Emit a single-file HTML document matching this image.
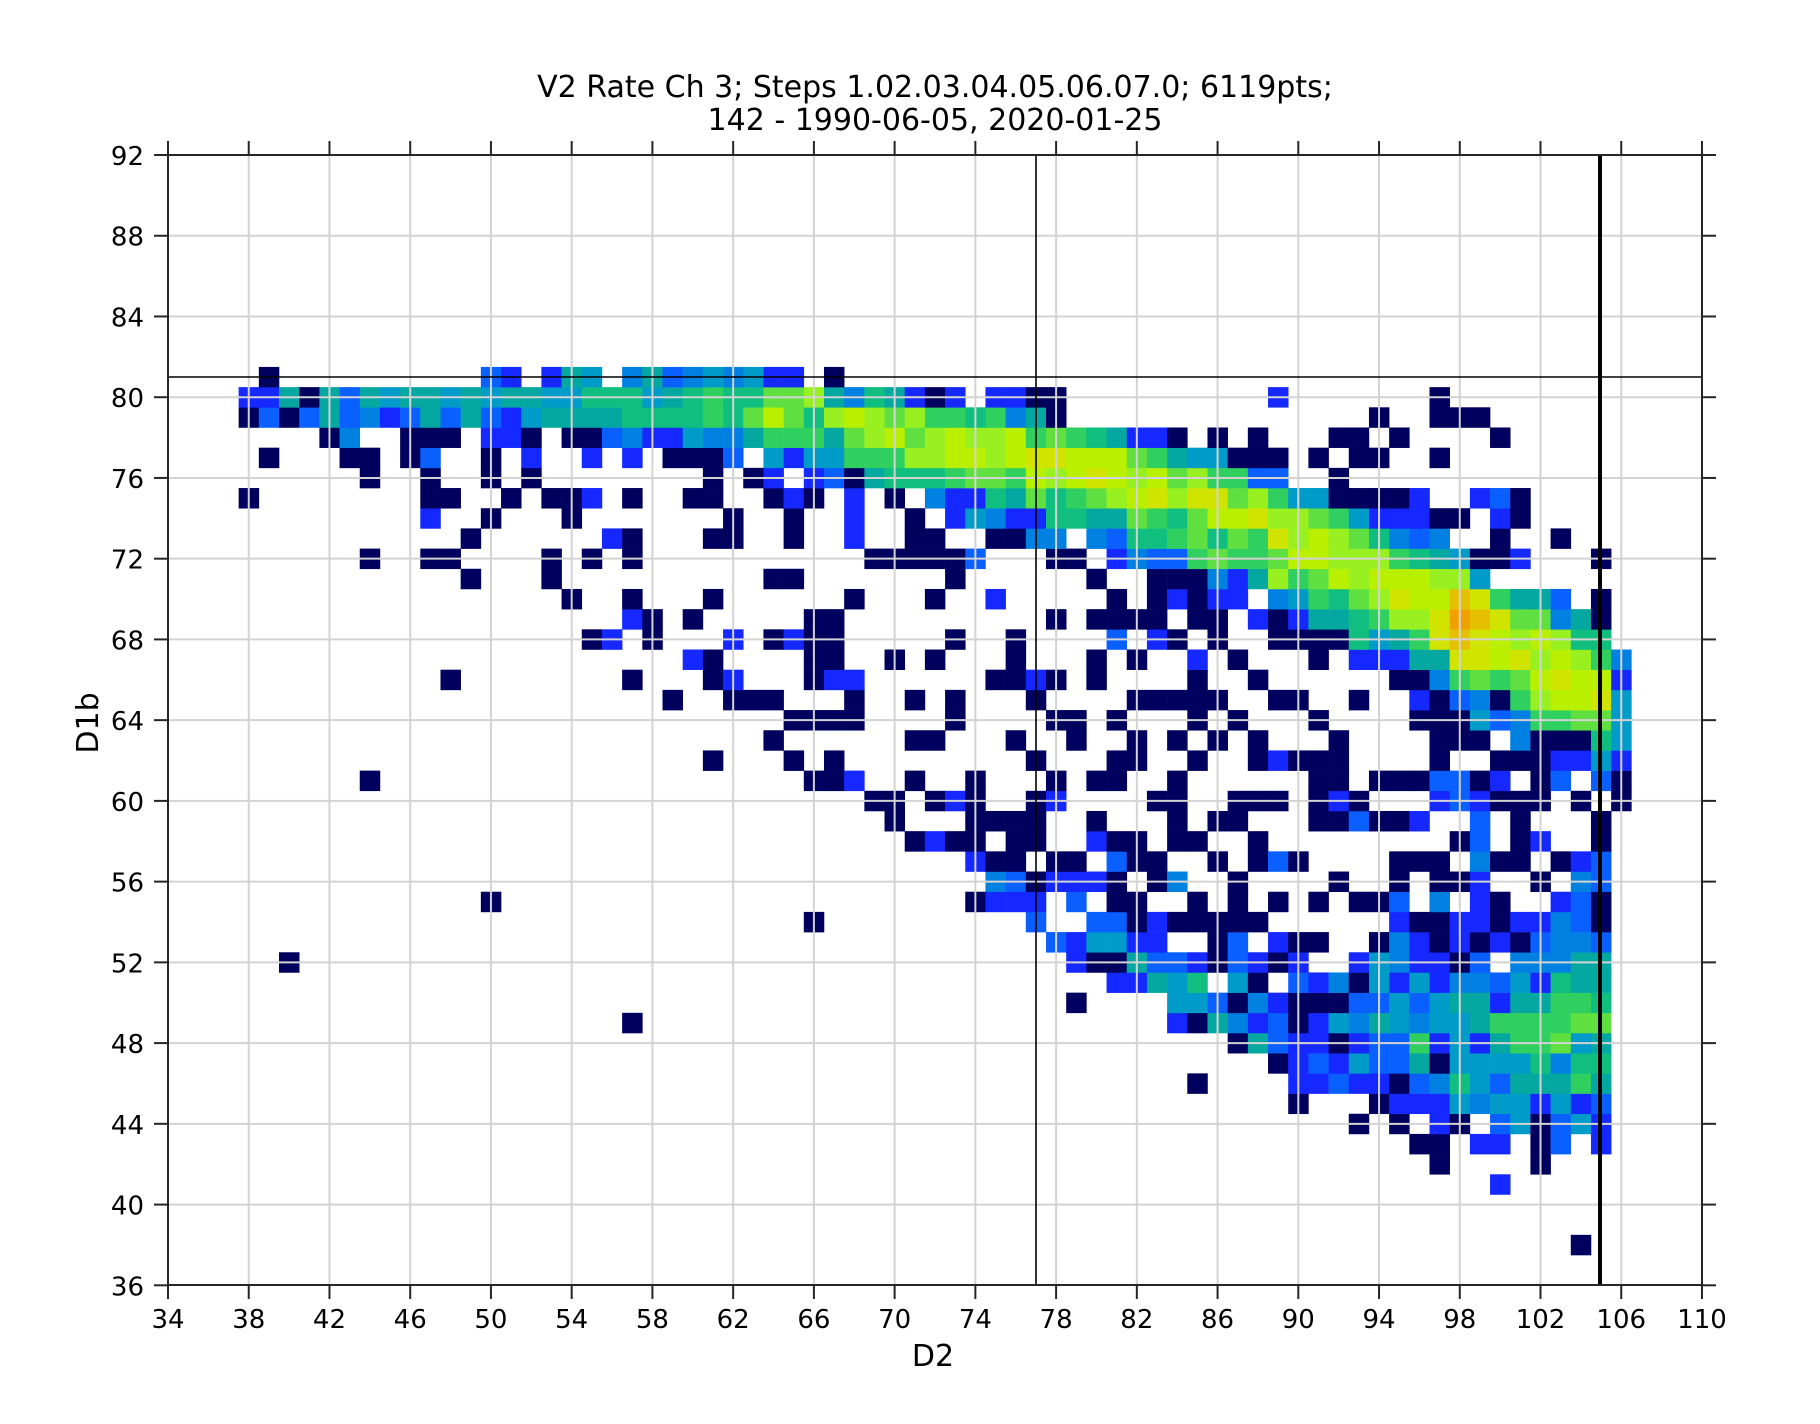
<!DOCTYPE html>
<html><head><meta charset="utf-8">
<style>
html,body{margin:0;padding:0;background:#fff;}
svg{display:block;}
text{font-family:"DejaVu Sans","Liberation Sans",sans-serif;fill:#000;}
</style></head>
<body>
<svg id="s" xmlns="http://www.w3.org/2000/svg" width="1820" height="1424" viewBox="0 0 1820 1424">
<rect width="1820" height="1424" fill="#fff"/>
<g id="cells"></g>
<g id="grid" stroke="#d3d3d3" stroke-width="2"></g>
<line x1="1036" y1="155" x2="1036" y2="1285" stroke="#000" stroke-width="1.6"/>
<line x1="1600" y1="155" x2="1600" y2="1285" stroke="#000" stroke-width="4"/>
<line x1="168" y1="377" x2="1702" y2="377" stroke="#000" stroke-width="1.6"/>
<g id="axes" stroke="#262626" stroke-width="2" fill="none"></g>
<g id="labels" font-size="26"></g>
<text x="935" y="97" font-size="30" text-anchor="middle">V2 Rate Ch 3; Steps 1.02.03.04.05.06.07.0; 6119pts;</text>
<text x="935" y="130" font-size="30" text-anchor="middle">142 - 1990-06-05, 2020-01-25</text>
<text x="933" y="1366" font-size="30" text-anchor="middle">D2</text>
<text transform="translate(98,723) rotate(-90)" font-size="30" text-anchor="middle">D1b</text>
</svg>
<script>
var NS="http://www.w3.org/2000/svg";
var U=20.184;
function px(x){return 168+(x-34)*U;}
function py(y){return 155+(92-y)*U;}
var C={n:"#00005f","1":"#1428ff","2":"#0a5fff","3":"#0080e0","4":"#009bc8","5":"#05a8a0","6":"#10bf80","7":"#30d060","8":"#60e040","9":"#98f020","10":"#b8f000","11":"#d0e400","12":"#e4c000","13":"#f0a000"};
var D={
81:"39n 50:2 51:1 53:1 54:5 55:4 57:3 58:5 59:2 60:3 61:4 62:3 63:4 64-65:1 67n",
80:"38-39:1 40:5 41n 42:5 43:2 44:5 45:4 46:5 47:5 48:4 49:5 50:4 51:5 52:5 53:4 54:4 55-57:6 58:4 59:5 60:6 61:7 62:6 63:6 64:8 65:8 66:9 67:5 68:3 69:6 70:5 71:1 72n 73:1 75-76:1 77-78n 89:1 97n",
79:"38n 39:2 40n 41:2 42:5 43:2 44:3 45:1 46:2 47:5 48:2 49:5 50:2 51:1 52:4 53-56:5 57-60:6 61:7 62:6 63:8 64:10 65:8 66:6 67:9 68:10 69:9 70:8 71:9 72:7 73:7 74:6 75:7 76:3 77:5 78n 94n 97-99n",
78:"42n 43:3 46-48n 50-51:1 52n 54-55n 56:2 57:3 58-59:1 60:4 61-62:3 63:5 64-66:7 67:5 68:8 69:9 70:10 71:8 72:9 73:10 74:9 75:9 76:10 77:7 78:8 79:7 80:6 81:5 82-83:1 84n 86n 88n 92-93n 95n 100n",
77:"39n 43-44n 46n 47:2 50n 52:1 55:1 57:1 59-61n 62:2 64:4 65:1 66-67:4 68-70:7 71:9 72:9 73:10 74:10 75:9 76:10 77:11 78:11 79:10 80:10 81:10 82:8 83:7 84:5 85:4 86:4 87-89n 91n 93-94n 97n",
76:"44n 47n 50n 52n 61n 63n 64:1 66:1 67:2 68n 69:5 70-72:6 73:7 74:8 75:8 76:7 77:10 78:9 79:10 80:11 81:10 82:9 83:10 84:8 85:9 86-87:7 88-89:2 92n",
75:"38n 47-48n 51n 53-54n 55:1 57n 60-61n 64n 65:1 66n 68:1 70n 72:3 73:1 74:1 75:6 76:5 77:8 78:6 79:7 80:8 81:9 82:10 83:11 84:9 85:11 86:11 87:8 88:9 89:7 90:4 91:4 92-95n 96:1 99:1 100:2 101n",
74:"47:1 50n 54n 62n 65n 68:1 71n 73:1 74:4 75:3 76-77:1 78-79:6 80-81:5 82:8 83:7 84:6 85:8 86-87:10 88:11 89-90:9 91:8 92:7 93:4 94-96:1 97-98n 100:1 101n",
73:"49n 56:1 57n 61-62n 65n 68:1 71-72n 75-76n 77-78:3 80:3 81:2 82:6 83:6 84:7 85:8 86:6 87:8 88:7 89:11 90:9 91:10 92:9 93:8 94:6 95:3 96:2 97:3 100n 103n",
72:"44n 47-48n 53n 55n 57n 69-73n 74:2 78-79n 81:1 82:3 83-84:2 85:7 86:8 87-88:7 89:8 90-91:10 92-94:9 95:7 96:6 97:5 98:4 99-100n 101:1 105n",
71:"49n 53n 64-65n 73n 80n 83-85n 86:3 87:1 88:5 89:9 90:7 91:8 92:10 93:9 94-96:10 97-98:9 99:4",
70:"54n 57n 61n 68n 72n 75:1 81n 83n 84:1 85n 86-87:1 89:3 90:4 91:7 92:6 93:8 94:9 95:11 96-97:10 98:12 99:11 100:7 101-102:5 103:2 105n",
69:"57:1 58n 60n 66-67n 78n 80-83n 85-86n 88:1 89n 90:1 91-92:5 93:6 94:7 95-96:9 97:11 98:13 99:12 100:11 101-102:8 103:3 104:5 105n",
68:"55n 56:1 58n 62:1 64n 65:1 66-67n 73n 76n 81:2 83:1 84n 86n 89-92n 93:6 94:4 95:5 96:7 97:11 98:12 99:11 100:10 101:9 102:10 103:9 104-105:6",
67:"60:1 61n 66-67n 70n 72n 76n 80n 82n 85:1 87n 91n 93-95:1 96-97:5 98-99:11 100:10 101:11 102:9 103:10 104:9 105:7 106:3",
66:"48n 57n 61n 62:1 66n 67-68:1 75-76n 77:1 78n 80n 85n 88n 95-96n 97:3 98:7 99:8 100:7 101:8 102:10 103:11 104-105:10 106:1",
65:"59n 62-64n 68n 71n 73n 77n 82-86n 89-90n 93n 96:1 97n 98:2 99:3 100n 101:7 102:9 103:10 104:10 105:11 106:4",
64:"65-68n 73n 78-79n 81n 85n 87n 91n 96-98n 99:4 100:2 101:3 102-103:7 104-105:8 106:4",
63:"64n 71-72n 76n 79n 82n 84n 86n 88n 92n 97-99n 101:3 102-104n 105:6 106:4",
62:"61n 65n 67n 77n 81-82n 85n 88n 89:1 90-92n 97n 100-102n 103-104:1 105:4 106:1",
61:"44n 66-67n 68:1 71n 74n 78n 80-81n 84n 91-92n 94-96n 97-98:2 99n 100:1 102n 103:2 105:2 106n",
60:"69-70n 72n 73:1 74n 77n 78:1 83-84n 87-89n 91n 92:1 93n 97:1 98:2 99:1 100-102n 104n 106n",
59:"70n 74-77n 80n 84n 86-87n 91-92n 93:2 94-95n 96:1 99:2 101n 105n",
58:"71n 72:1 73-74n 76-77n 80:1 81-82n 84-85n 88n 98n 99:2 101n 102:1 105n",
57:"74:1 75-76n 78-79n 81:2 82-83n 86n 88n 89:2 90n 95-97n 99:3 100-101n 103n 104:1 105:2",
56:"75:3 76:2 77n 78-80:1 81n 83n 84:3 87n 92n 95n 97-98n 99:1 102n 104:3 105:2",
55:"50n 74n 75-77:1 79:2 81-82n 85n 87n 89n 91n 93-94n 95:2 97:3 99:1 100n 103:1 104:2 105n",
54:"66n 77:2 80-81:2 82n 83:1 84-88n 95:1 96-97n 98-99:1 100n 101-102:1 103:3 104:2 105n",
53:"78:2 79:1 80-81:4 82-83:1 86n 87:2 89:1 90-91n 94n 95:3 96:1 97n 98:1 99n 100:1 101n 102:2 103-104:3 105:2",
52:"40n 79:1 80-81n 82:5 83-84:2 85:1 86n 87:2 88:1 89n 90:1 93:1 94:4 95:3 96-97:1 98n 99:2 101-103:3 104-105:5",
51:"81-82:1 83:5 84:4 85:6 87:4 88n 90:2 91:1 92:3 93n 94:4 95:1 96:4 97:1 98-99:3 100:2 101:4 102:1 103:6 104-105:5",
50:"79n 84-85:4 86:2 87n 88:3 89:1 90-92n 93-94:2 95:4 96:2 97:4 98-99:5 100:1 101-102:5 103-104:7 105:6",
49:"57n 84:1 85n 86:5 87:3 88:1 89:2 90n 91:1 92:4 93:3 94:5 95:4 96:3 97-98:4 99:5 100-103:7 104-105:8",
48:"87n 88:5 89:2 90-91:1 92n 93:1 94-95:2 96:7 97:1 98:4 99:1 100:5 101-102:7 103:8 104:4 105:5",
47:"89n 90:1 91:2 92:1 93:4 94-95:2 96:5 97n 98-101:4 102:6 103:3 104-105:6",
46:"85n 90-91:1 92:2 93-94:1 95n 96:2 97:3 98:6 99:4 100:2 101-103:5 104:7 105:5",
45:"90n 94n 95-97:1 98:4 99:3 100-101:4 102:1 103:4 104:1 105:2",
44:"93n 95n 97:1 98n 100:2 101:4 102n 103:2 104:4 105:1",
43:"96-97n 99-100:1 102n 103:2 105:1",
42:"97n 102n",
41:"100:1",
38:"104n"
};
var g=document.getElementById("cells"),h="";
for(var y in D){
  var toks=D[y].split(" ");
  toks.forEach(function(t){
    var code,rng;
    if(t.indexOf(":")>=0){var p=t.split(":");rng=p[0];code=p[1];}
    else {rng=t.slice(0,-1);code="n";}
    var a,b;
    if(rng.indexOf("-")>=0){var q=rng.split("-");a=+q[0];b=+q[1];}else{a=b=+rng;}
    for(var x=a;x<=b;x++){
      h+='<rect x="'+px(x-0.5).toFixed(2)+'" y="'+py(+y+0.5).toFixed(2)+'" width="'+(U+0.3).toFixed(2)+'" height="'+(U+0.3).toFixed(2)+'" fill="'+C[code]+'"/>';
    }
  });
}
g.innerHTML=h;
var gr="",ax="",lb="";
for(var x=34;x<=110;x+=4){
  var X=px(x).toFixed(2);
  if(x>34&&x<110) gr+='<line x1="'+X+'" y1="155" x2="'+X+'" y2="1285"/>';
  ax+='<line x1="'+X+'" y1="1285" x2="'+X+'" y2="1299"/><line x1="'+X+'" y1="155" x2="'+X+'" y2="141"/>';
  lb+='<text x="'+X+'" y="1328" text-anchor="middle">'+x+'</text>';
}
for(var y=36;y<=92;y+=4){
  var Y=py(y).toFixed(2);
  if(y>36&&y<92) gr+='<line x1="168" y1="'+Y+'" x2="1702" y2="'+Y+'"/>';
  ax+='<line x1="154" y1="'+Y+'" x2="168" y2="'+Y+'"/><line x1="1702" y1="'+Y+'" x2="1716" y2="'+Y+'"/>';
  lb+='<text x="144" y="'+(+Y+10).toFixed(2)+'" text-anchor="end">'+y+'</text>';
}
ax+='<rect x="168" y="155" width="1534" height="1130"/>';
document.getElementById("grid").innerHTML=gr;
document.getElementById("axes").innerHTML=ax;
document.getElementById("labels").innerHTML=lb;
</script>
</body></html>
